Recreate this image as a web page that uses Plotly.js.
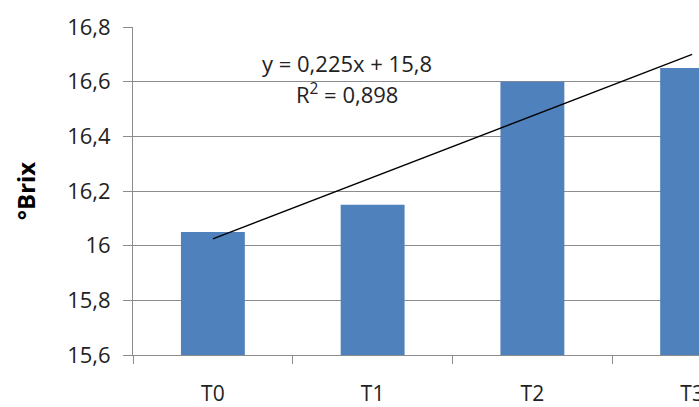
<!DOCTYPE html>
<html>
<head>
<meta charset="utf-8">
<script src="https://cdn.plot.ly/plotly-3.0.1.min.js"></script>
<style>
html, body { margin:0; padding:0; overflow:hidden; background:#fff; width:699px; height:407px; }
#chart { width:792px; height:407px; }
</style>
</head>
<body>
<div id="chart"></div>
<script>
const categories = ['T0', 'T1', 'T2', 'T3'];
const brixValues = [16.05, 16.15, 16.6, 16.65];
const trendX = ['T0', 'T3'];
const trendY = [16.025, 16.7];
const yTickVals = [15.6, 15.8, 16, 16.2, 16.4, 16.6, 16.8];
const yTickText = ['15,6', '15,8', '16', '16,2', '16,4', '16,6', '16,8'];
const equationText = 'y = 0,225x + 15,8';
const r2Text = 'R<sup>2</sup> = 0,898';

const font = 'Open Sans, Noto Sans, sans-serif';

const traces = [
  {
    type: 'bar',
    x: categories,
    y: brixValues,
    marker: { color: '#4F81BD' },
    width: 0.4,
    hoverinfo: 'skip'
  },
  {
    type: 'scatter',
    mode: 'lines',
    x: trendX,
    y: trendY,
    line: { color: '#000', width: 1.3 },
    hoverinfo: 'skip'
  }
];

const layout = {
  width: 792,
  height: 407,
  margin: { l: 133, r: 20, t: 27, b: 52 },
  paper_bgcolor: '#fff',
  plot_bgcolor: '#fff',
  showlegend: false,
  font: { family: font, size: 22, color: '#222' },
  xaxis: {
    type: 'category',
    range: [-0.5, 3.5],
    showgrid: false,
    showline: true,
    linecolor: '#8c8c8c',
    linewidth: 1,
    ticks: 'outside',
    tickson: 'boundaries',
    ticklen: 8,
    tickcolor: '#8c8c8c',
    ticklabelstandoff: 20,
    tickfont: { family: font, size: 21, color: '#222' },
    zeroline: false
  },
  yaxis: {
    range: [15.6, 16.8],
    tickvals: yTickVals,
    ticktext: yTickText,
    showgrid: true,
    gridcolor: '#8c8c8c',
    gridwidth: 1,
    showline: true,
    linecolor: '#8c8c8c',
    ticks: 'outside',
    ticklen: 9,
    tickcolor: '#8c8c8c',
    ticklabelstandoff: 8,
    tickfont: { family: font, size: 22, color: '#222' },
    zeroline: false,
    title: { text: '°Brix', font: { family: font, size: 24, color: '#000', weight: 'bold' }, standoff: 24 }
  },
  annotations: [
    { x: 0.84, y: 16.668, xref: 'x', yref: 'y', text: equationText, showarrow: false,
      font: { family: font, size: 22, color: '#222' } },
    { x: 0.84, y: 16.555, xref: 'x', yref: 'y', text: r2Text, showarrow: false,
      font: { family: font, size: 22, color: '#222' } }
  ]
};

Plotly.newPlot('chart', traces, layout, { displayModeBar: false, staticPlot: true });
</script>
</body>
</html>
